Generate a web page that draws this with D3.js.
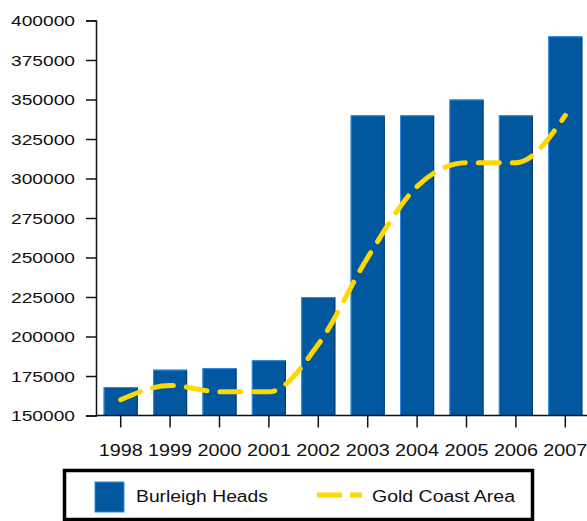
<!DOCTYPE html>
<html>
<head>
<meta charset="utf-8">
<script src="https://cdn.jsdelivr.net/npm/d3@7"></script>
<style>
  body { margin: 0; background: #fff; }
  text { font-family: "Liberation Sans", Arial, sans-serif; fill: #111; }
</style>
</head>
<body>
<script>
// chart values
var years = ['1998','1999','2000','2001','2002','2003','2004','2005','2006','2007'];
var burleigh = [168000, 179000, 180000, 185000, 225000, 340000, 340000, 350000, 340000, 390000];
var goldCoast = [160000, 169000, 165000, 165000, 195000, 250000, 295000, 310000, 310000, 340000];
var yTicks = [150000, 175000, 200000, 225000, 250000, 275000, 300000, 325000, 350000, 375000, 400000];

var width = 587, height = 521;
var svg = d3.select('body').append('svg')
  .attr('width', width)
  .attr('height', height);

var x = d3.scaleBand()
  .domain(years)
  .range([96, 590])
  .paddingInner(0.31)
  .paddingOuter(0.155);

var y = d3.scaleLinear()
  .domain([150000, 400000])
  .range([415.5, 20.5]);

// bars
var bars = svg.append('g').selectAll('g')
  .data(years)
  .enter().append('g');

bars.append('rect')
  .attr('x', function(d) { return x(d); })
  .attr('y', function(d, i) { return y(burleigh[i]); })
  .attr('width', x.bandwidth())
  .attr('height', function(d, i) { return y(150000) - y(burleigh[i]); })
  .attr('fill', '#01589e');

// light edge on top and left, dark edge on the right
bars.append('path')
  .attr('d', function(d, i) {
    var x0 = x(d) + 0.5, y0 = y(burleigh[i]) + 0.5;
    return 'M' + x0 + ',' + y(150000) + 'V' + y0 + 'H' + (x(d) + x.bandwidth());
  })
  .attr('fill', 'none')
  .attr('stroke', '#2e8fe6')
  .attr('stroke-width', 1);

bars.append('line')
  .attr('x1', function(d) { return x(d) + x.bandwidth() - 0.5; })
  .attr('x2', function(d) { return x(d) + x.bandwidth() - 0.5; })
  .attr('y1', function(d, i) { return y(burleigh[i]) + 1; })
  .attr('y2', y(150000))
  .attr('stroke', '#0a3a66')
  .attr('stroke-width', 1);

// dashed gold line
var line = d3.line()
  .x(function(d, i) { return x(years[i]) + x.bandwidth() / 2; })
  .y(function(d) { return y(d); })
  .curve(d3.curveMonotoneX);

svg.append('path')
  .datum(goldCoast)
  .attr('d', line)
  .attr('fill', 'none')
  .attr('stroke', '#ffd800')
  .attr('stroke-width', 5)
  .attr('stroke-linecap', 'round')
  .attr('stroke-dasharray', '21,13');

// axes
var yAxis = svg.append('g')
  .attr('transform', 'translate(96,0)')
  .call(d3.axisLeft(y).tickValues(yTicks).tickSize(10).tickPadding(11).tickFormat(d3.format('d')));

var xAxis = svg.append('g')
  .attr('transform', 'translate(0,' + y(150000) + ')')
  .call(d3.axisBottom(x).tickSize(12).tickPadding(17));

[yAxis, xAxis].forEach(function(ax) {
  ax.select('.domain').attr('stroke', '#111').attr('stroke-width', 1.5);
  ax.selectAll('.tick line').attr('stroke', '#111').attr('stroke-width', 1.5);
  ax.selectAll('text').attr('fill', '#111')
    .style('font-family', '"Liberation Sans", Arial, sans-serif');
});
yAxis.selectAll('text').attr('font-size', 15).attr('dy', '0.36em')
  .attr('textLength', 64).attr('lengthAdjust', 'spacingAndGlyphs');
xAxis.selectAll('text').attr('font-size', 16)
  .attr('textLength', 44).attr('lengthAdjust', 'spacingAndGlyphs');
xAxis.select('.domain').attr('d', 'M96,0H587');

// legend
var legend = svg.append('g');
legend.append('rect')
  .attr('x', 64.5).attr('y', 470.5)
  .attr('width', 468).attr('height', 49)
  .attr('fill', '#fff')
  .attr('stroke', '#000')
  .attr('stroke-width', 3.5);

legend.append('rect')
  .attr('x', 95).attr('y', 482)
  .attr('width', 29).attr('height', 30)
  .attr('fill', '#01589e')
  .attr('stroke', '#2e8fe6')
  .attr('stroke-width', 1);

legend.append('text')
  .attr('x', 136).attr('y', 496)
  .attr('dy', '0.35em')
  .attr('font-size', 16)
  .attr('textLength', 132)
  .attr('lengthAdjust', 'spacingAndGlyphs')
  .text('Burleigh Heads');

legend.append('line')
  .attr('x1', 317).attr('x2', 362)
  .attr('y1', 495).attr('y2', 495)
  .attr('stroke', '#ffd800')
  .attr('stroke-width', 5)
  .attr('stroke-dasharray', '25,8');

legend.append('text')
  .attr('x', 372).attr('y', 496)
  .attr('dy', '0.35em')
  .attr('font-size', 16)
  .attr('textLength', 143)
  .attr('lengthAdjust', 'spacingAndGlyphs')
  .text('Gold Coast Area');
</script>
</body>
</html>
